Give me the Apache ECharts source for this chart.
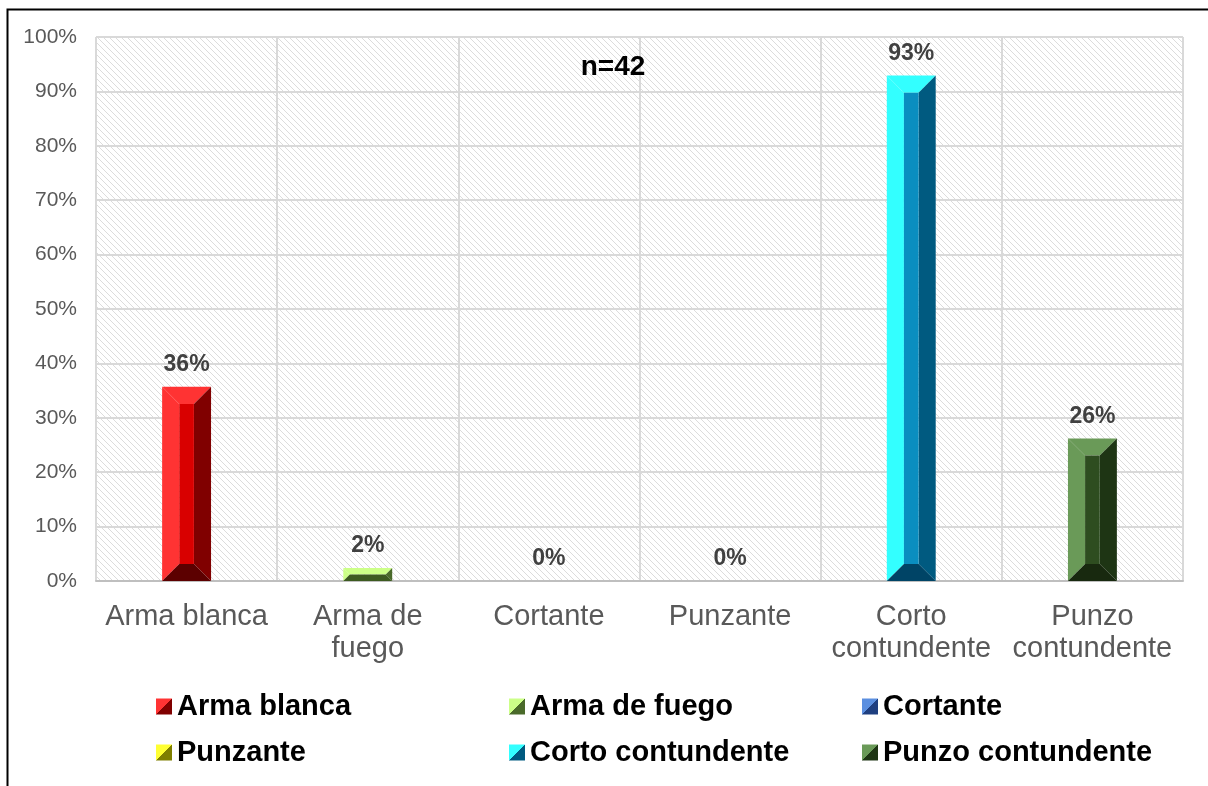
<!DOCTYPE html>
<html>
<head>
<meta charset="utf-8">
<script src="https://cdn.jsdelivr.net/npm/echarts@6/dist/echarts.min.js"></script>
<style>
  html, body { margin: 0; padding: 0; background: #fff; }
  #chart-container { width: 1208px; height: 786px; }
</style>
</head>
<body>
<div id="chart-container"></div>
<script>
var categories = ["Arma blanca", "Arma de fuego", "Cortante", "Punzante", "Corto contundente", "Punzo contundente"];
var xLabels = ["Arma blanca", "Arma de\nfuego", "Cortante", "Punzante", "Corto\ncontundente", "Punzo\ncontundente"];
var values = [35.7, 2.4, 0, 0, 92.9, 26.2];
var valueLabels = ["36%", "2%", "0%", "0%", "93%", "26%"];
var sampleNote = "n=42";

// bevel colours per category: light (left/top), inner, right, bottom
var lightColors = ["#ff3333", "#ccff88", "#5b8fe0", "#ffff33", "#33ffff", "#6a9a58"];
var innerColors = ["#d90000", "#7fa84a", "#2f62c0", "#c8c800", "#0a8ec0", "#2e4d20"];
var rightColors = ["#800000", "#4a6a2a", "#1f3f80", "#7f7f00", "#005a80", "#1e3514"];
var bottomColors = ["#5c0000", "#3c5a20", "#182f60", "#606000", "#004466", "#18290f"];

var font = "'Liberation Sans', Arial, sans-serif";

// hatch tile for plot background
var tile = document.createElement("canvas");
tile.width = 6;
tile.height = 6;
var tctx = tile.getContext("2d");
tctx.fillStyle = "#ffffff";
tctx.fillRect(0, 0, 6, 6);
tctx.fillStyle = "#dcdcdc";
for (var i = 0; i < 6; i++) tctx.fillRect(i, i, 1, 1);

var dom = document.getElementById("chart-container");
var myChart = echarts.init(dom, null, { renderer: "canvas" });

function legendColor(i) {
  return {
    type: "linear", x: 0, y: 0, x2: 1, y2: 1,
    colorStops: [
      { offset: 0, color: lightColors[i] },
      { offset: 0.5, color: lightColors[i] },
      { offset: 0.5, color: rightColors[i] },
      { offset: 1, color: rightColors[i] }
    ]
  };
}

function renderBar(params, api) {
  var i = params.seriesIndex;
  var idx = api.value(0);
  var v = api.value(1);
  var top = api.coord([idx, v]);
  var base = api.coord([idx, 0]);
  var w = api.size([1, 0])[0] * 0.27;
  var x0 = top[0] - w / 2, x1 = top[0] + w / 2;
  var y0 = top[1], y1 = base[1];
  var h = y1 - y0;
  var b = Math.min(w * 0.35, h / 2);
  var children = [];
  if (h > 0) {
    children.push(
      { type: "polygon", shape: { points: [[x0, y0], [x0 + b, y0 + b], [x0 + b, y1 - b], [x0, y1]] }, style: { fill: lightColors[i] } },
      { type: "polygon", shape: { points: [[x0, y0], [x1, y0], [x1 - b, y0 + b], [x0 + b, y0 + b]] }, style: { fill: lightColors[i] } },
      { type: "polygon", shape: { points: [[x1, y0], [x1, y1], [x1 - b, y1 - b], [x1 - b, y0 + b]] }, style: { fill: rightColors[i] } },
      { type: "polygon", shape: { points: [[x0, y1], [x0 + b, y1 - b], [x1 - b, y1 - b], [x1, y1]] }, style: { fill: bottomColors[i] } },
      { type: "rect", shape: { x: x0 + b, y: y0 + b, width: Math.max(0, w - 2 * b), height: Math.max(0, h - 2 * b) }, style: { fill: innerColors[i] } }
    );
  }
  children.push({
    type: "text",
    style: {
      text: valueLabels[i], x: top[0], y: y0 - 22,
      align: "center", verticalAlign: "middle",
      fontSize: 23, fontWeight: "bold", fontFamily: font, fill: "#404040"
    }
  });
  return { type: "group", children: children };
}

var seriesData = categories.map(function (name, i) {
  return {
    name: name,
    type: "custom",
    renderItem: renderBar,
    encode: { x: 0, y: 1 },
    itemStyle: { color: legendColor(i) },
    data: [[i, values[i]]]
  };
});

var legendCols = [156, 509, 862];
var legendRows = [692, 738];
var legends = categories.map(function (name, i) {
  return {
    data: [{ name: name, icon: "rect", itemStyle: { color: legendColor(i) } }],
    left: legendCols[i % 3],
    top: legendRows[Math.floor(i / 3)],
    padding: 0,
    itemWidth: 16,
    itemHeight: 16,
    selectedMode: false,
    textStyle: { fontSize: 29, fontWeight: "bold", fontFamily: font, color: "#000" }
  };
});

var option = {
  backgroundColor: "#fff",
  animation: false,
  textStyle: { fontFamily: font },
  grid: {
    left: 96, right: 25, top: 37, bottom: 205,
    show: true, borderWidth: 0,
    backgroundColor: { image: tile, repeat: "repeat" }
  },
  legend: legends,
  graphic: [
    {
      type: "rect", left: 5, top: 7,
      shape: { width: 1220, height: 800 },
      style: { fill: "none", stroke: "#000", lineWidth: 2 }
    },
    {
      type: "text", x: 613, y: 67, z: 100,
      style: {
        text: sampleNote, align: "center", verticalAlign: "middle",
        fontSize: 28, fontWeight: "bold", fontFamily: font, fill: "#000"
      }
    }
  ],
  xAxis: {
    type: "category",
    data: categories,
    boundaryGap: true,
    axisLine: { show: true, lineStyle: { color: "#bfbfbf", width: 2 } },
    axisTick: { show: false },
    splitLine: { show: true, lineStyle: { color: "#d9d9d9", width: 2 } },
    axisLabel: {
      interval: 0, margin: 20,
      fontSize: 29, lineHeight: 32, color: "#595959", fontFamily: font,
      formatter: function (val, idx) { return xLabels[idx]; }
    }
  },
  yAxis: {
    type: "value",
    min: 0, max: 100, interval: 10,
    axisLine: { show: false },
    axisTick: { show: false },
    splitLine: { show: true, lineStyle: { color: "#d9d9d9", width: 2 } },
    axisLabel: { formatter: "{value}%", fontSize: 21, color: "#595959", margin: 19, fontFamily: font }
  },
  series: seriesData
};

myChart.setOption(option);
window.addEventListener("resize", myChart.resize);
</script>
</body>
</html>
